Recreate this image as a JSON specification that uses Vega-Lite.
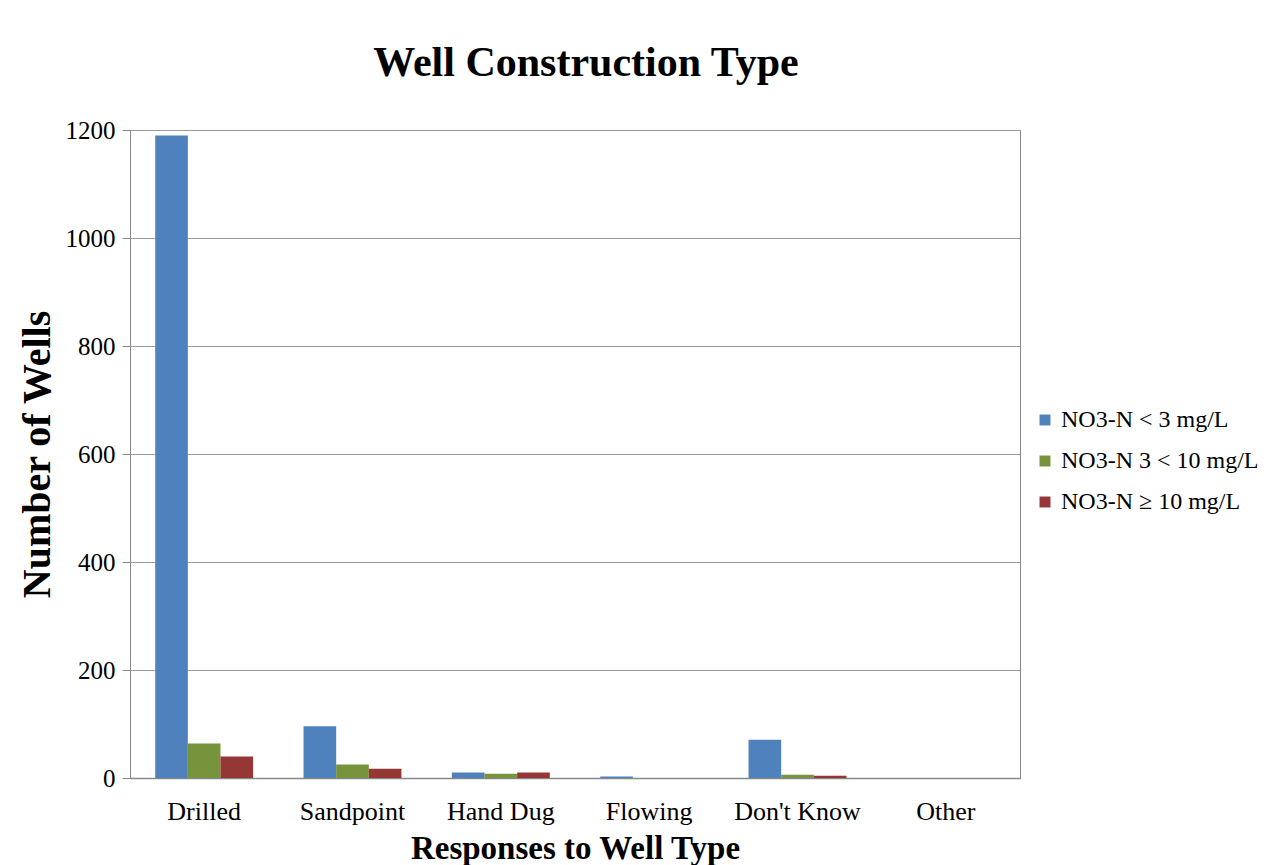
{
  "$schema": "https://vega.github.io/schema/vega-lite/v6.json",
  "autosize": "none",
  "width": 890,
  "height": 648,
  "padding": {"left": 130, "top": 130, "right": 256, "bottom": 87},
  "background": "white",
  "title": {
    "text": "Well Construction Type",
    "font": "Liberation Serif",
    "fontSize": 42,
    "fontWeight": "bold",
    "color": "black",
    "anchor": "middle",
    "offset": 33,
    "dx": 11
  },
  "data": {
    "values": [
      {"type": "Drilled", "level": "NO3-N < 3 mg/L", "wells": 1190},
      {"type": "Drilled", "level": "NO3-N 3 < 10 mg/L", "wells": 64},
      {"type": "Drilled", "level": "NO3-N ≥ 10 mg/L", "wells": 40},
      {"type": "Sandpoint", "level": "NO3-N < 3 mg/L", "wells": 96},
      {"type": "Sandpoint", "level": "NO3-N 3 < 10 mg/L", "wells": 25},
      {"type": "Sandpoint", "level": "NO3-N ≥ 10 mg/L", "wells": 17},
      {"type": "Hand Dug", "level": "NO3-N < 3 mg/L", "wells": 10},
      {"type": "Hand Dug", "level": "NO3-N 3 < 10 mg/L", "wells": 8},
      {"type": "Hand Dug", "level": "NO3-N ≥ 10 mg/L", "wells": 10},
      {"type": "Flowing", "level": "NO3-N < 3 mg/L", "wells": 3},
      {"type": "Flowing", "level": "NO3-N 3 < 10 mg/L", "wells": 0},
      {"type": "Flowing", "level": "NO3-N ≥ 10 mg/L", "wells": 0},
      {"type": "Don't Know", "level": "NO3-N < 3 mg/L", "wells": 71},
      {"type": "Don't Know", "level": "NO3-N 3 < 10 mg/L", "wells": 6},
      {"type": "Don't Know", "level": "NO3-N ≥ 10 mg/L", "wells": 4},
      {"type": "Other", "level": "NO3-N < 3 mg/L", "wells": 0},
      {"type": "Other", "level": "NO3-N 3 < 10 mg/L", "wells": 0},
      {"type": "Other", "level": "NO3-N ≥ 10 mg/L", "wells": 0}
    ]
  },
  "mark": {"type": "bar"},
  "encoding": {
    "x": {
      "field": "type",
      "type": "nominal",
      "sort": ["Drilled", "Sandpoint", "Hand Dug", "Flowing", "Don't Know", "Other"],
      "scale": {"paddingInner": 0.34, "paddingOuter": 0.17},
      "axis": {
        "title": "Responses to Well Type",
        "titleFont": "Liberation Serif",
        "titleFontSize": 33,
        "titleFontWeight": "bold",
        "titleColor": "black",
        "titlePadding": 8,
        "labelFont": "Liberation Serif",
        "labelFontSize": 26,
        "labelColor": "black",
        "labelAngle": 0,
        "labelPadding": 20,
        "ticks": false,
        "domainColor": "#888888",
        "domainWidth": 1.5
      }
    },
    "xOffset": {"field": "level", "type": "nominal", "sort": ["NO3-N < 3 mg/L", "NO3-N 3 < 10 mg/L", "NO3-N ≥ 10 mg/L"]},
    "y": {
      "field": "wells",
      "type": "quantitative",
      "scale": {"domain": [0, 1200], "nice": false},
      "axis": {
        "values": [0, 200, 400, 600, 800, 1000, 1200],
        "format": "d",
        "title": "Number of Wells",
        "titleFont": "Liberation Serif",
        "titleFontSize": 40,
        "titleFontWeight": "bold",
        "titleColor": "black",
        "titlePadding": 8,
        "labelFont": "Liberation Serif",
        "labelFontSize": 25,
        "labelColor": "black",
        "labelPadding": 7,
        "ticks": true,
        "tickColor": "#888888",
        "tickSize": 8,
        "domainColor": "#888888",
        "gridColor": "#9a9a9a",
        "gridWidth": 1
      }
    },
    "color": {
      "field": "level",
      "type": "nominal",
      "sort": ["NO3-N < 3 mg/L", "NO3-N 3 < 10 mg/L", "NO3-N ≥ 10 mg/L"],
      "scale": {"range": ["#4f81bd", "#77933c", "#953735"]},
      "legend": {
        "title": null,
        "orient": "none",
        "legendX": 903,
        "legendY": 278,
        "symbolType": "square",
        "symbolSize": 120,
        "symbolStrokeWidth": 0,
        "labelFont": "Liberation Serif",
        "labelFontSize": 24,
        "labelColor": "black",
        "labelLimit": 300,
        "labelOffset": 4,
        "rowPadding": 17
      }
    }
  },
  "config": {
    "view": {"stroke": "#888888", "strokeWidth": 1}
  }
}
